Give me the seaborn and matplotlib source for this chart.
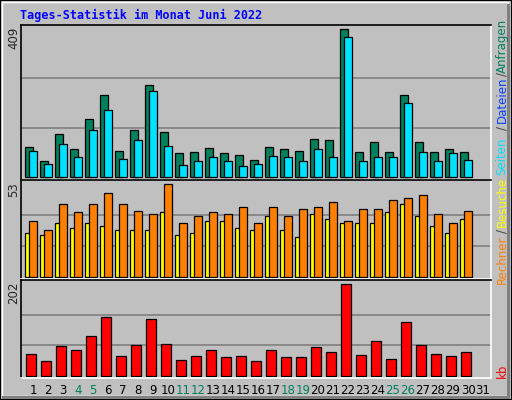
import numpy as np
import pandas as pd
import matplotlib
matplotlib.use("Agg")
import matplotlib.pyplot as plt
import seaborn as sns
from matplotlib.patches import Rectangle

# Daily values for June 2022 (day 31 has no data)
days = list(range(1, 31))
anfragen = [84, 45, 120, 76, 159, 226, 73, 131, 253, 123, 65, 68, 79, 65, 62,
            48, 84, 76, 73, 106, 101, 409, 68, 98, 70, 226, 98, 68, 76, 70]
dateien = [73, 37, 90, 54, 131, 184, 51, 101, 237, 87, 34, 45, 56, 45, 31,
           37, 59, 56, 45, 76, 56, 387, 45, 56, 54, 204, 68, 45, 65, 48]
besuche = [32, 27, 42, 37, 42, 48, 42, 38, 36, 53, 31, 35, 37, 36, 40,
           31, 40, 35, 39, 40, 43, 32, 39, 39, 44, 45, 47, 36, 31, 38]
rechner = [25, 24, 31, 28, 31, 29, 27, 27, 27, 37, 24, 25, 32, 32, 28,
           27, 35, 27, 23, 36, 33, 31, 31, 31, 37, 42, 35, 29, 25, 33]
kb = [47, 32, 65, 56, 87, 129, 43, 67, 125, 71, 34, 43, 56, 41, 43,
      32, 56, 41, 41, 63, 52, 202, 45, 76, 38, 118, 67, 49, 43, 52]
tick_days = list(range(1, 32))
weekend = {4, 5, 11, 12, 18, 19, 25, 26}

GRAY = "#C0C0C0"
GREEN = "#00805C"
BLUE = "#0040FF"
CYAN = "#00E0FF"
ORANGE = "#FF8000"
YELLOW = "#FFFF00"
RED = "#FF0000"

sns.set_style("white")
plt.rcParams["font.family"] = ["DejaVu Sans"]

fig = plt.figure(figsize=(5.12, 4.0), dpi=100, facecolor=GRAY)

# 3D frame around the image
fig.patches.append(Rectangle((0, 0), 1, 1, transform=fig.transFigure, fill=False,
                             edgecolor="black", linewidth=1.5))
fig.patches.append(Rectangle((2 / 512, 4 / 400), 506 / 512, 394 / 400, transform=fig.transFigure,
                             fill=False, edgecolor="white", linewidth=1))
fig.patches.append(Rectangle((2 / 512, 0.003), 508 / 512, 3 / 400, transform=fig.transFigure,
                             facecolor="#808080", edgecolor="none"))
fig.patches.append(Rectangle((507 / 512, 0.003), 3 / 512, 395 / 400, transform=fig.transFigure,
                             facecolor="#808080", edgecolor="none"))

left, width = 21 / 512, 470 / 512
xlim = (0.467, 31.8)
ew = 0.9


def make_ax(top_px, bot_px, ylim, grid):
    ax = fig.add_axes([left, 1 - bot_px / 400, width, (bot_px - top_px) / 400])
    ax.set_facecolor(GRAY)
    ax.set_xlim(*xlim)
    ax.set_ylim(*ylim)
    for g in grid:
        ax.axhline(g, color="#808080", linewidth=1.2, zorder=0)
    for s in ["left", "top"]:
        ax.spines[s].set_color("black")
    for s in ["right", "bottom"]:
        ax.spines[s].set_color("white")
    for s in ax.spines.values():
        s.set_linewidth(1.2)
    ax.set_xticks([])
    ax.set_yticks([])
    return ax


def bars(ax, xs, ys, w, color):
    df = pd.DataFrame({"x": xs, "y": ys})
    sns.barplot(data=df, x="x", y="y", native_scale=True, width=w, color=color,
                edgecolor="black", linewidth=ew, saturation=1, ax=ax, zorder=2)
    ax.set_xlabel("")
    ax.set_ylabel("")
    ax.set_xlim(*xlim)


# top panel: Anfragen / Dateien / Seiten
ax1 = make_ax(25, 180, (-8.3, 420), [409 / 3, 2 * 409 / 3])
bars(ax1, [d + 0.0 for d in days], anfragen, 0.48, GREEN)
bars(ax1, [d + 0.27 for d in days], dateien, 0.48, CYAN)

# middle panel: Besuche / Rechner
ax2 = make_ax(180, 279, (-1.3, 55.5), [53 / 3, 2 * 53 / 3])
bars(ax2, [d + 0.0 for d in days], rechner, 0.48, YELLOW)
bars(ax2, [d + 0.27 for d in days], besuche, 0.48, ORANGE)

# bottom panel: kb
ax3 = make_ax(280, 378, (-5, 211.5), [202 / 3, 2 * 202 / 3])
bars(ax3, [d + 0.15 for d in days], kb, 0.68, RED)
ax3.set_xticks([d + 0.27 for d in tick_days])
ax3.set_xticklabels([str(d) for d in tick_days], fontsize=8.5)
ax3.tick_params(axis="x", length=0, pad=4)
for lab, d in zip(ax3.get_xticklabels(), tick_days):
    lab.set_color(GREEN if d in weekend else "black")

# max value labels on the left
for y_px, txt in [(27, "409"), (182, "53"), (282, "202")]:
    fig.text(14 / 512, 1 - y_px / 400, txt, rotation=90, ha="center", va="top", fontsize=8.5)

fig.text(20 / 512, 1 - 15 / 400, "Tages-Statistik im Monat Juni 2022", color="#0000FF",
         family="DejaVu Sans Mono", weight="bold", fontsize=8.5, ha="left", va="center")

# legend words along the right edge
right_labels = [
    ("Anfragen", GREEN, 46), ("/", "#404040", 74), ("Dateien", BLUE, 100),
    ("/", "#404040", 128), ("Seiten", CYAN, 156), ("Besuche", YELLOW, 202),
    ("/", "#404040", 231), ("Rechner", ORANGE, 260), ("kb", RED, 371),
]
for txt, col, y_px in right_labels:
    fig.text(502 / 512, 1 - y_px / 400, txt, rotation=90, ha="center", va="center",
             color=col, fontsize=8.5)

fig.savefig("out.png", dpi=100, facecolor=GRAY)
